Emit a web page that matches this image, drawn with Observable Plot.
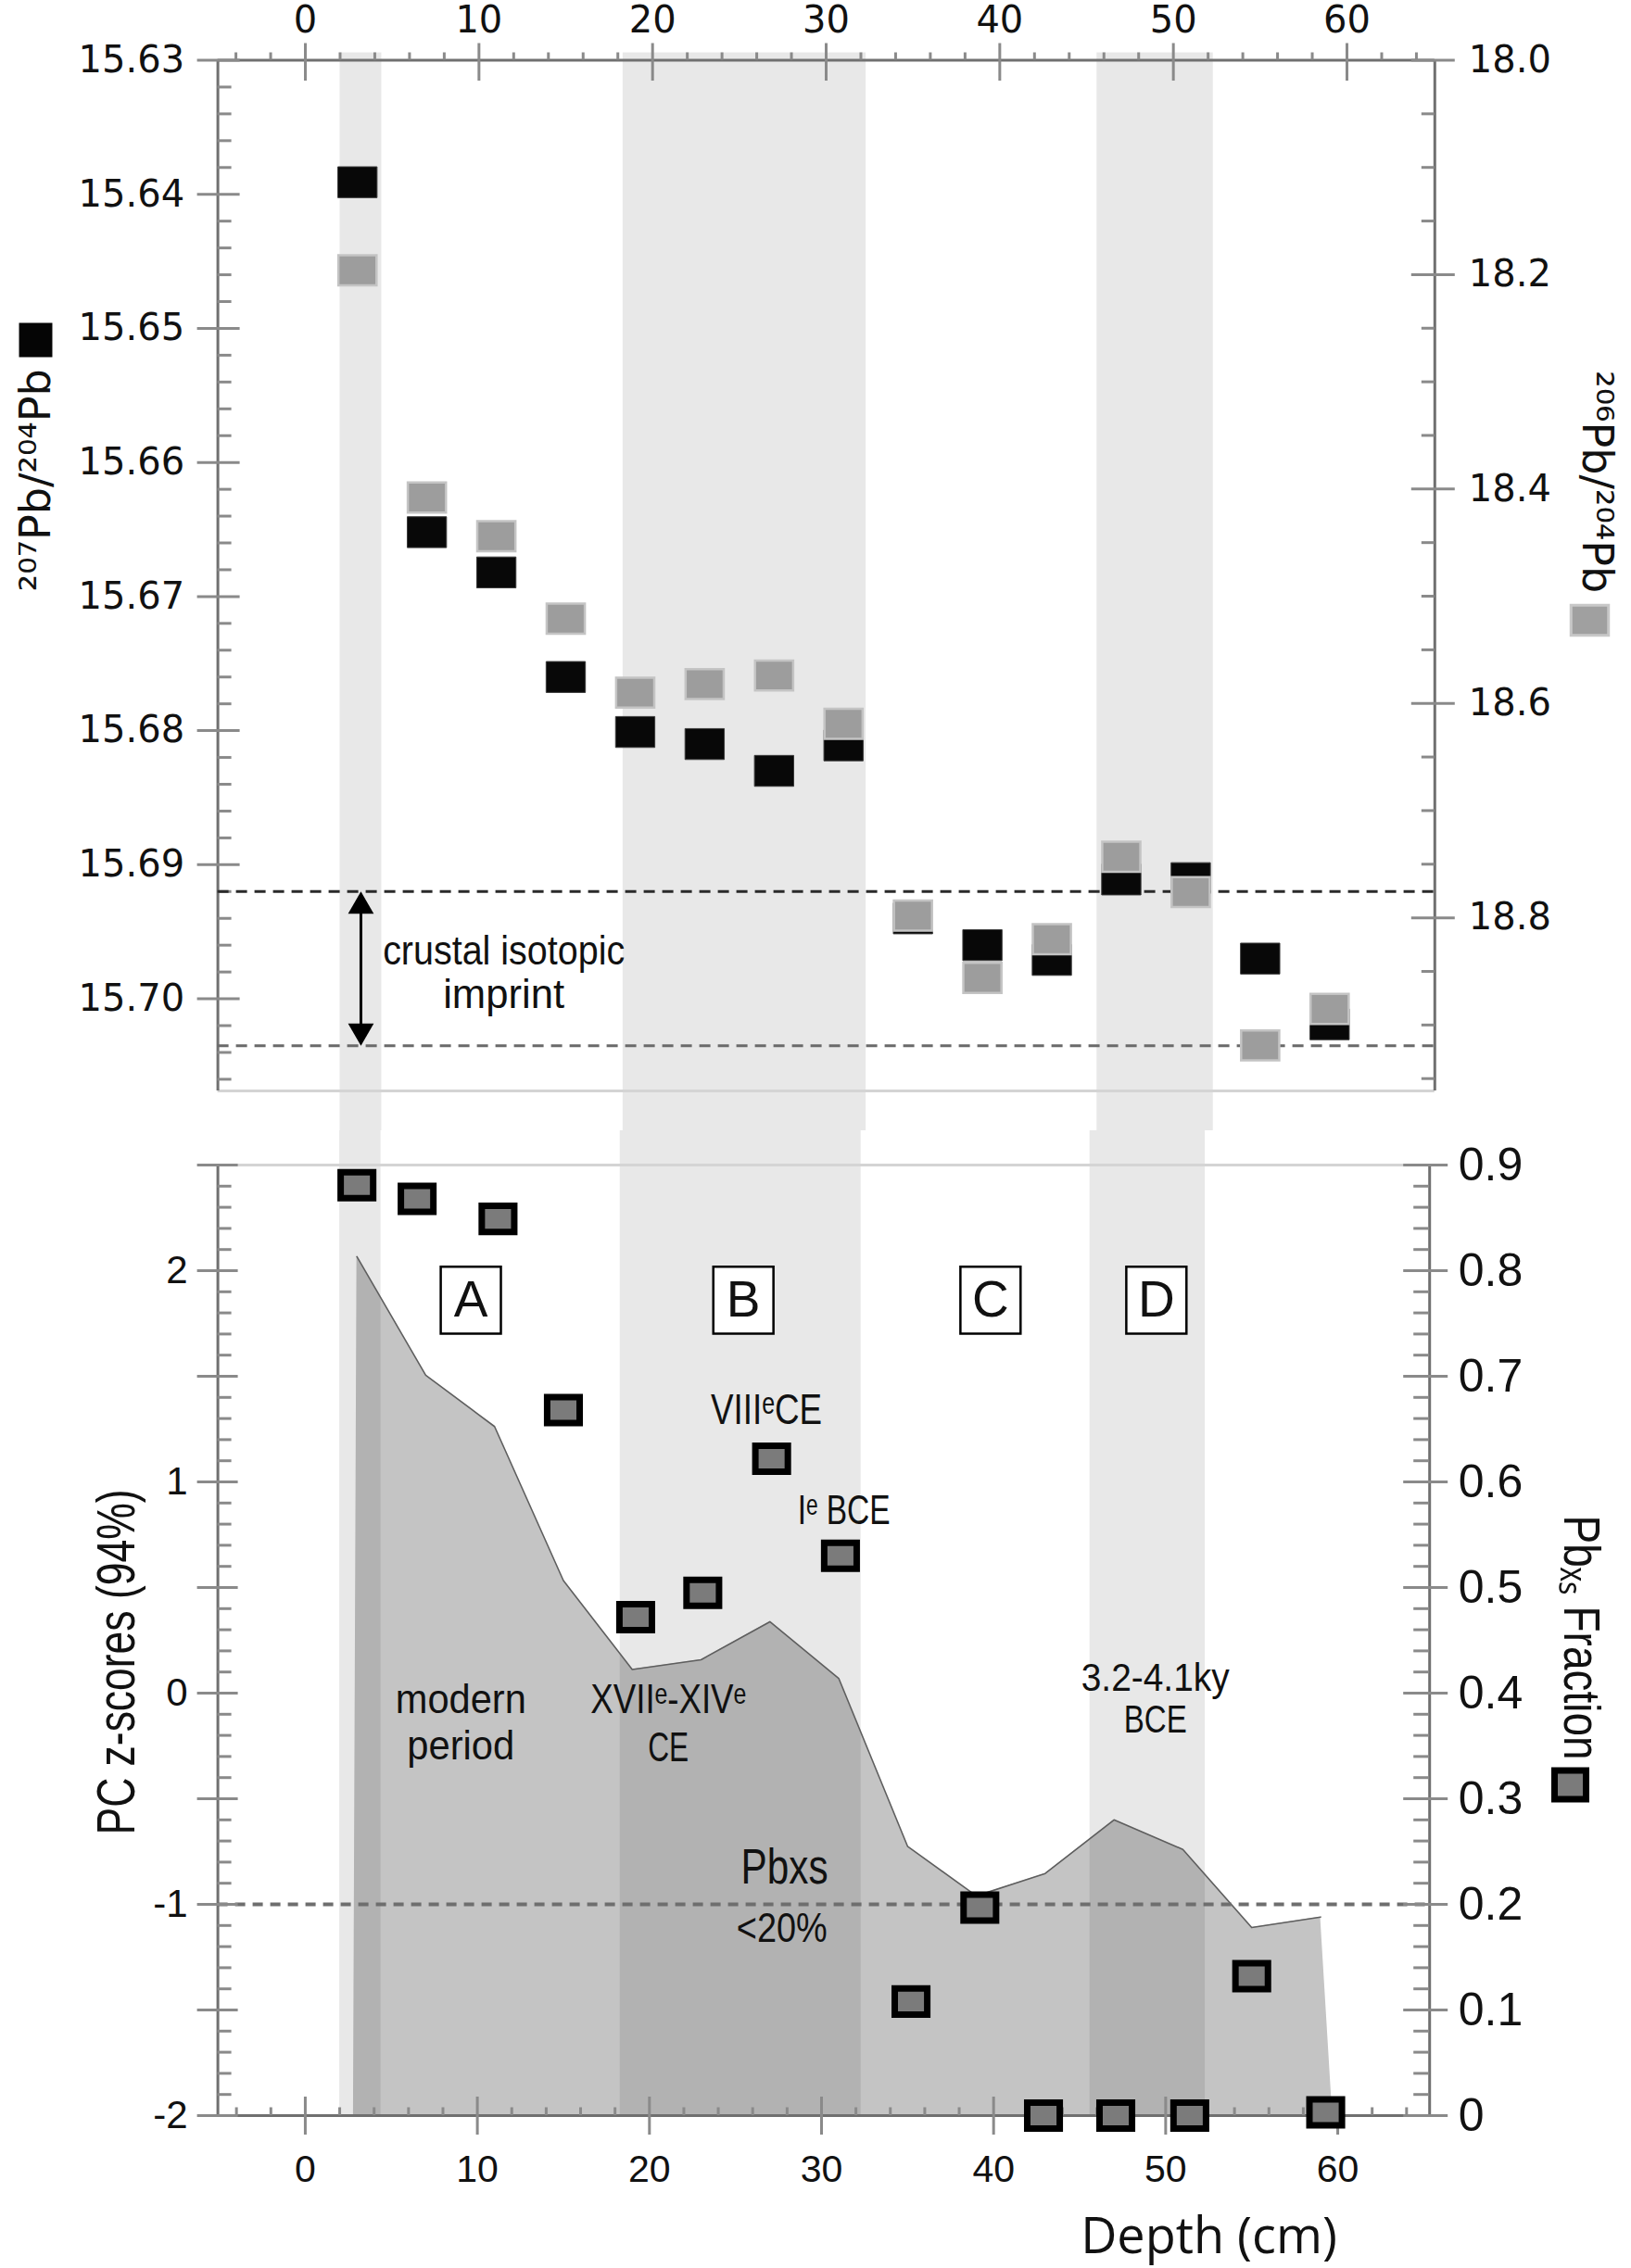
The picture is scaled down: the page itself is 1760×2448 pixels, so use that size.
<!DOCTYPE html>
<html>
<head>
<meta charset="utf-8">
<script src="https://cdn.jsdelivr.net/npm/d3@7"></script>
<script src="https://cdn.jsdelivr.net/npm/@observablehq/plot@0.6"></script>
<style>
  html, body { margin: 0; padding: 0; background: #fff; }
  #fig { width: 1760px; height: 2448px; position: relative; background: #fff; }
  #fig svg { display: block; }
</style>
</head>
<body>
<div id="fig"></div>
<script>
// ---------------- DATA ----------------
const depthTop   = [3, 7, 11, 15, 19, 23, 27, 31, 35, 39, 43, 47, 51, 55, 59];
const pb207_204  = [15.6391, 15.6652, 15.6682, 15.6760, 15.6801, 15.6810, 15.6830, 15.6811,
                    15.6940, 15.6960, 15.6971, 15.6911, 15.6910, 15.6970, 15.7019];
const pb206_204  = [18.196, 18.408, 18.444, 18.521, 18.590, 18.582, 18.574, 18.619,
                    18.798, 18.856, 18.820, 18.743, 18.776, 18.919, 18.885];
const crustalBounds = [15.6920, 15.7035];

const pcDepth = [2.8, 3, 7, 11, 15, 19, 23, 27, 31, 35, 39, 43, 47, 51, 55, 59, 59.7];
const pcScore = [-2, 2.066, 1.505, 1.262, 0.533, 0.112, 0.158, 0.338, 0.07, -0.725, -0.96,
                 -0.854, -0.60, -0.74, -1.11, -1.06, -2];

const pbxsDepth    = [3, 6.5, 11.2, 15, 19.2, 23.1, 27.1, 31.1, 35.2, 39.2, 42.9, 47.1, 51.4, 55, 59.3];
const pbxsFraction = [0.881, 0.868, 0.849, 0.668, 0.472, 0.495, 0.622, 0.530, 0.108, 0.197, 0, 0, 0, 0.132, 0.003];
const pbxsThreshold = 0.2;

const bandStart = [2.0, 18.3, 45.6];
const bandEnd   = [4.4, 32.3, 52.3];

const zoneLabels = ["A", "B", "C", "D"];
const zoneDepth  = [9.62, 25.46, 39.82, 49.46];

const depthTicks     = [0, 10, 20, 30, 40, 50, 60];
const leftTopTicks   = [15.63, 15.64, 15.65, 15.66, 15.67, 15.68, 15.69, 15.70];
const rightTopTicks  = [18.0, 18.2, 18.4, 18.6, 18.8];
const pcTicks        = [2, 1, 0, -1, -2];
const pbxsTicks      = [0.9, 0.8, 0.7, 0.6, 0.5, 0.4, 0.3, 0.2, 0.1, 0];

// ---------------- LAYOUT / STYLE ----------------
const NARROW = "'Liberation Sans Narrow', 'Liberation Sans', Arial, sans-serif";
const ARIAL  = "'Liberation Sans', Arial, sans-serif";
const DEJAVU = "'DejaVu Sans', sans-serif";
const OPEN   = "'Open Sans', sans-serif";
const AXIS = "#707070", TICK = "#8a8a8a", LIGHT = "#d4d4d4";

// widths (px) the condensed annotation lines occupy in the figure
const condensedWidth = {
  "crustal isotopic": 261, "imprint": 131, "modern": 141, "period": 116,
  "XVIIᵉ-XIVᵉ": 168, "CE": 44, "VIIIᵉCE": 120, "Iᵉ BCE": 100,
  "3.2-4.1ky": 160, "BCE": 68, "Pbxs": 94, "<20%": 98,
  "PC z-scores (94%)": 373, "Pbₓₛ Fraction": 264
};

const TOP = {w: 1760, h: 1220, left: 234.6, right: 1547.8, top: 64.5, bottom: 1177};
const BOT = {w: 1760, h: 1228, left: 234.6, right: 1542.2, top: 37, bottom: 1063};

const topX = [-5.04, 65.06];
const L0 = 15.63, L1 = 15.70687;
const R0 = 18.0,  R1 = 18.9615;
const toLeft = v => L0 + (v - R0) * (L1 - L0) / (R1 - R0);
const fromLeft = v => R0 + (v - L0) * (R1 - R0) / (L1 - L0);

const botX = [-5.08, 65.34];
const P0 = -2, P1 = 2.5;
const toPC = f => P0 + f * (P1 - P0) / 0.9;
const fromPC = v => (v - P0) * 0.9 / (P1 - P0);

const rectSymbol = aspect => ({
  draw(context, size) {
    const h = Math.sqrt(size / aspect), w = h * aspect;
    context.moveTo(-w / 2, -h / 2);
    context.lineTo(w / 2, -h / 2);
    context.lineTo(w / 2, h / 2);
    context.lineTo(-w / 2, h / 2);
    context.closePath();
  }
});

function yTicks(values, side, inner, outer, frameW) {
  const o = side === "left"
    ? {insetLeft: -outer, insetRight: frameW - inner}
    : {insetRight: -outer, insetLeft: frameW - inner};
  return Plot.tickY(values, {y: d => d, stroke: TICK, strokeWidth: 3, ...o});
}
function xTicks(values, side, inner, outer, frameH) {
  const o = side === "top"
    ? {insetTop: -outer, insetBottom: frameH - inner}
    : {insetBottom: -outer, insetTop: frameH - inner};
  return Plot.tickX(values, {x: d => d, stroke: TICK, strokeWidth: 3, ...o});
}
const narrow = o => ({fontFamily: NARROW, fill: "#111", ariaDescription: "narrow", ...o});

const bands = bandStart.map((s, i) => ({s, e: bandEnd[i]}));

// ---------------- TOP PANEL ----------------
const topFW = TOP.right - TOP.left, topFH = TOP.bottom - TOP.top;
const topData = depthTop.map((d, i) => ({d, a: pb207_204[i], b: pb206_204[i]}));

const xMinor = d3.range(-4, 66, 2).filter(d => d % 10 !== 0);
const leftTopMinor = d3.range(1, 39).filter(i => i % 5).map(i => L0 + i * 0.002);
const rightTopMinor = d3.range(1, 20).filter(i => i % 4).map(i => toLeft(R0 + i * 0.05));

const topPlot = Plot.plot({
  width: TOP.w, height: TOP.h,
  marginLeft: TOP.left, marginRight: TOP.w - TOP.right,
  marginTop: TOP.top, marginBottom: TOP.h - TOP.bottom,
  style: {background: "#fff", color: "#111", fontFamily: DEJAVU, overflow: "visible"},
  x: {domain: topX},
  y: {domain: [L1, L0]},
  marks: [
    Plot.rect(bands, {x1: "s", x2: "e", fill: "#000", fillOpacity: 0.09,
                      insetTop: -8, insetBottom: -(TOP.h - TOP.bottom)}),
    Plot.ruleY([L1], {stroke: LIGHT, strokeWidth: 3}),
    Plot.ruleY([L0], {stroke: AXIS, strokeWidth: 3}),
    Plot.ruleX([topX[0]], {stroke: AXIS, strokeWidth: 3}),
    Plot.ruleX([topX[1]], {stroke: AXIS, strokeWidth: 3}),
    xTicks(depthTicks, "top", 22.5, 18, topFH),
    xTicks(xMinor, "top", 0, 8, topFH),
    yTicks(leftTopTicks, "left", 24, 22, topFW),
    yTicks(leftTopMinor, "left", 15, 0, topFW),
    yTicks(rightTopTicks.map(toLeft), "right", 25, 22, topFW),
    yTicks(rightTopMinor, "right", 14, 0, topFW),
    Plot.ruleY([crustalBounds[0]], {stroke: "#2a2a2a", strokeWidth: 3, strokeDasharray: "12 8"}),
    Plot.ruleY([crustalBounds[1]], {stroke: "#6a6a6a", strokeWidth: 3, strokeDasharray: "12 8"}),
    Plot.ruleX([3.2], {y1: crustalBounds[0], y2: crustalBounds[1], stroke: "#000", strokeWidth: 3,
                       insetTop: 12, insetBottom: 12}),
    Plot.dot([crustalBounds[0]], {x: 3.2, y: d => d, symbol: "triangle", r: 10.3, fill: "#000", dy: 16}),
    Plot.dot([crustalBounds[1]], {x: 3.2, y: d => d, symbol: "triangle", r: 10.3, fill: "#000", dy: -16, rotate: 180}),
    Plot.text(["crustal isotopic\nimprint"], narrow({x: 11.43, y: 15.698, fontSize: 45, lineHeight: 1.055})),
    Plot.dot(topData, {x: "d", y: "a", symbol: rectSymbol(1.27), r: 21.2, fill: "#080808",
                       stroke: "#3a3a3a", strokeWidth: 1}),
    Plot.dot(topData, {x: "d", y: r => toLeft(r.b), symbol: rectSymbol(1.27), r: 20.6, fill: "#9d9d9d",
                       stroke: "#c4c4c4", strokeWidth: 2.5}),
    Plot.axisX(depthTicks, {anchor: "top", tickSize: 0, tickPadding: 30, fontSize: 40,
                            fontFamily: DEJAVU, tickFormat: d => String(d), label: null}),
    Plot.axisY(leftTopTicks, {anchor: "left", tickSize: 0, tickPadding: 36, fontSize: 40,
                              fontFamily: DEJAVU, tickFormat: d => d.toFixed(2), label: null}),
    Plot.axisY(rightTopTicks.map(toLeft), {anchor: "right", tickSize: 0, tickPadding: 36.5, fontSize: 40,
                              fontFamily: DEJAVU, tickFormat: v => fromLeft(v).toFixed(1), label: null}),
    Plot.text(["²⁰⁷Pb/²⁰⁴Pb"], {frameAnchor: "left", textAnchor: "middle", lineAnchor: "middle",
                                 dx: -195.6, dy: -103, rotate: -90, fontSize: 46, fontFamily: DEJAVU, fill: "#111"}),
    Plot.dot([0], {frameAnchor: "left", dx: -196.6, dy: -254.3, symbol: rectSymbol(0.97), r: 20.6, fill: "#050505"}),
    Plot.text(["²⁰⁶Pb/²⁰⁴Pb"], {frameAnchor: "right", textAnchor: "middle", lineAnchor: "middle",
                                 dx: 174, dy: -101, rotate: 90, fontSize: 46, fontFamily: DEJAVU, fill: "#111"}),
    Plot.dot([0], {frameAnchor: "right", dx: 167.2, dy: 48.3, symbol: rectSymbol(1.24), r: 20.5,
                   fill: "#a0a0a0", stroke: "#c8c8c8", strokeWidth: 3})
  ]
});

// ---------------- BOTTOM PANEL ----------------
const botFW = BOT.right - BOT.left, botFH = BOT.bottom - BOT.top;
const pcData = pcDepth.map((d, i) => ({d, v: pcScore[i]}));
const pbxsData = pbxsDepth.map((d, i) => ({d, f: pbxsFraction[i]}));
const zones = zoneLabels.map((z, i) => ({z, d: zoneDepth[i]}));

const pcMajor = d3.range(0, 10).map(i => P0 + i * 0.5);
const pcMinor = d3.range(1, 45).filter(i => i % 5).map(i => P0 + i * 0.1);

const botPlot = Plot.plot({
  width: BOT.w, height: BOT.h,
  marginLeft: BOT.left, marginRight: BOT.w - BOT.right,
  marginTop: BOT.top, marginBottom: BOT.h - BOT.bottom,
  style: {background: "#fff", color: "#111", fontFamily: ARIAL, overflow: "visible"},
  x: {domain: botX},
  y: {domain: [P0, P1]},
  marks: [
    Plot.areaY(pcData, {x: "d", y1: P0, y2: "v", fill: "#c4c4c4"}),
    Plot.rect(bands, {x1: "s", x2: "e", fill: "#000", fillOpacity: 0.09, insetTop: -BOT.top}),
    Plot.line(pcData.slice(1, -1), {x: "d", y: "v", stroke: "#5e5e5e", strokeWidth: 1.6}),
    Plot.ruleY([toPC(pbxsThreshold)], {stroke: "#6e6e6e", strokeWidth: 4, strokeDasharray: "11 8"}),
    Plot.ruleY([P1], {stroke: LIGHT, strokeWidth: 3}),
    Plot.ruleY([P0], {stroke: AXIS, strokeWidth: 3}),
    Plot.ruleX([botX[0]], {stroke: AXIS, strokeWidth: 3}),
    Plot.ruleX([botX[1]], {stroke: AXIS, strokeWidth: 3}),
    xTicks(depthTicks, "bottom", 20, 21, botFH),
    xTicks(xMinor, "bottom", 8.5, 0, botFH),
    yTicks(pcMajor, "left", 22, 22, botFW),
    yTicks(pcMinor, "left", 15, 0, botFW),
    yTicks(pcMajor, "right", 28, 20, botFW),
    yTicks(pcMinor, "right", 17, 0, botFW),
    Plot.text(["modern\nperiod"], narrow({x: 9.04, y: -0.132, fontSize: 44, lineHeight: 1.14})),
    Plot.text(["XVIIᵉ-XIVᵉ\nCE"], narrow({x: 21.1, y: -0.134, fontSize: 44, lineHeight: 1.2})),
    Plot.text(["VIIIᵉCE"], narrow({x: 26.8, y: 1.338, fontSize: 46})),
    Plot.text(["Iᵉ BCE"], narrow({x: 31.3, y: 0.864, fontSize: 44})),
    Plot.text(["3.2-4.1ky\nBCE"], narrow({x: 49.4, y: -0.026, fontSize: 42, lineHeight: 1.05})),
    Plot.text(["Pbxs"], narrow({x: 27.85, y: -0.825, fontSize: 54})),
    Plot.text(["<20%"], narrow({x: 27.7, y: -1.114, fontSize: 44})),
    Plot.dot(zones, {x: "d", y: 1.86, symbol: rectSymbol(0.9), r: 38.6, fill: "#fff", stroke: "#000", strokeWidth: 2.5}),
    Plot.text(zones, {x: "d", y: 1.86, text: "z", fontSize: 55, fontFamily: NARROW, fill: "#111"}),
    Plot.dot(pbxsData, {x: "d", y: r => toPC(r.f), symbol: rectSymbol(1.25), r: 17.7,
                        fill: "#7b7b7b", stroke: "#000", strokeWidth: 7}),
    Plot.axisX(depthTicks, {anchor: "bottom", tickSize: 0, tickPadding: 42, fontSize: 41,
                            fontFamily: ARIAL, tickFormat: d => String(d), label: null}),
    Plot.axisY(pcTicks, {anchor: "left", tickSize: 0, tickPadding: 32.6, fontSize: 42,
                         fontFamily: ARIAL, tickFormat: d => String(d), label: null}),
    Plot.axisY(pbxsTicks.map(toPC), {anchor: "right", tickSize: 0, tickPadding: 31, fontSize: 50,
                         fontFamily: ARIAL, tickFormat: v => String(+fromPC(v).toFixed(2)), label: null}),
    Plot.text(["Depth (cm)"], {frameAnchor: "bottom", textAnchor: "middle", lineAnchor: "middle",
                               dx: 415.6, dy: 131, fontSize: 54, fontFamily: OPEN, fill: "#111"}),
    Plot.text(["PC z-scores (94%)"], narrow({frameAnchor: "left", textAnchor: "middle", lineAnchor: "middle",
                                      dx: -109, dy: 23.5, rotate: -90, fontSize: 58})),
    Plot.text(["Pbₓₛ Fraction"], narrow({frameAnchor: "right", textAnchor: "middle", lineAnchor: "middle",
                                  dx: 163, dy: -3, rotate: 90, fontSize: 56})),
    Plot.dot([0], {frameAnchor: "right", dx: 151.8, dy: 156, symbol: rectSymbol(1.1), r: 18.3,
                   fill: "#7b7b7b", stroke: "#000", strokeWidth: 7})
  ]
});

const fig = document.getElementById("fig");
fig.appendChild(topPlot);
fig.appendChild(botPlot);

// condense the narrow annotation lines to the widths they have in the figure
function condense(svg) {
  svg.querySelectorAll('[aria-description="narrow"] text').forEach(t => {
    const spans = t.querySelectorAll("tspan");
    const parts = spans.length ? Array.from(spans) : [t];
    parts.forEach(el => {
      const s = el.textContent;
      const natural = el.getComputedTextLength();
      const target = condensedWidth[s] !== undefined ? condensedWidth[s] : natural * 0.85;
      el.setAttribute("textLength", target);
      el.setAttribute("lengthAdjust", "spacingAndGlyphs");
    });
  });
}
condense(topPlot);
condense(botPlot);
</script>
</body>
</html>
